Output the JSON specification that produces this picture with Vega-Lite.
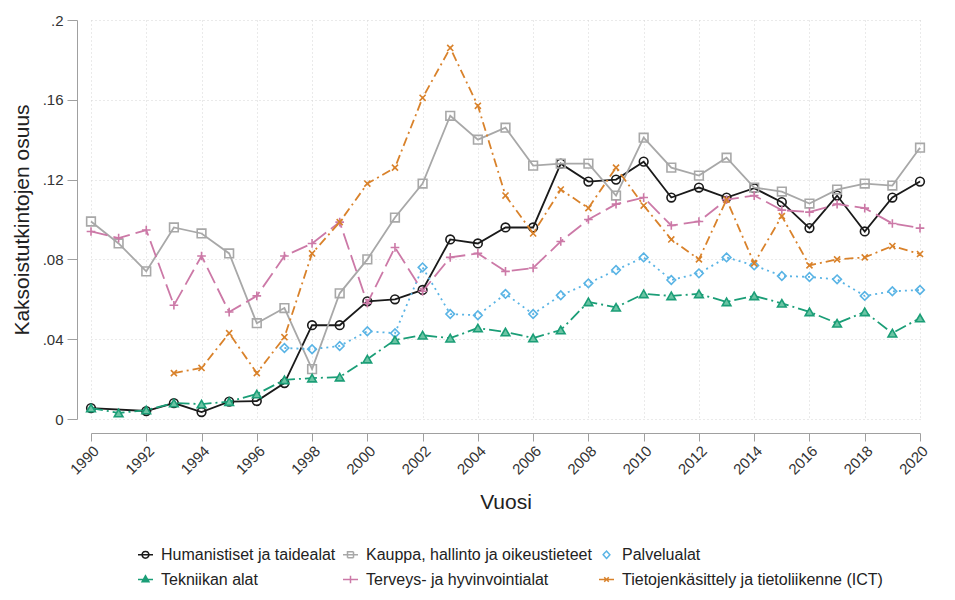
{
  "$schema": "https://vega.github.io/schema/vega-lite/v6.json",
  "width": 829,
  "height": 399,
  "autosize": {"type": "none"},
  "padding": {"left": 91, "top": 20, "right": 35, "bottom": 181},
  "background": "white",
  "config": {
    "font": "Liberation Sans",
    "view": {"stroke": null},
    "axis": {
      "labelFont": "Liberation Sans",
      "titleFont": "Liberation Sans",
      "labelFontSize": 15,
      "titleFontSize": 21,
      "titleFontWeight": "normal",
      "labelColor": "#333333",
      "titleColor": "#222222",
      "domainColor": "#a0a0a0",
      "tickColor": "#a0a0a0",
      "gridColor": "#d4d4d4",
      "gridDash": [1, 3],
      "gridWidth": 1
    }
  },
  "data": {
    "values": [
      {"vuosi": 1990, "ala": "Humanistiset ja taidealat", "osuus": 0.0055},
      {"vuosi": 1992, "ala": "Humanistiset ja taidealat", "osuus": 0.004},
      {"vuosi": 1993, "ala": "Humanistiset ja taidealat", "osuus": 0.008},
      {"vuosi": 1994, "ala": "Humanistiset ja taidealat", "osuus": 0.0035},
      {"vuosi": 1995, "ala": "Humanistiset ja taidealat", "osuus": 0.0087},
      {"vuosi": 1996, "ala": "Humanistiset ja taidealat", "osuus": 0.009},
      {"vuosi": 1997, "ala": "Humanistiset ja taidealat", "osuus": 0.018},
      {"vuosi": 1998, "ala": "Humanistiset ja taidealat", "osuus": 0.047},
      {"vuosi": 1999, "ala": "Humanistiset ja taidealat", "osuus": 0.047},
      {"vuosi": 2000, "ala": "Humanistiset ja taidealat", "osuus": 0.059},
      {"vuosi": 2001, "ala": "Humanistiset ja taidealat", "osuus": 0.060},
      {"vuosi": 2002, "ala": "Humanistiset ja taidealat", "osuus": 0.0647},
      {"vuosi": 2003, "ala": "Humanistiset ja taidealat", "osuus": 0.090},
      {"vuosi": 2004, "ala": "Humanistiset ja taidealat", "osuus": 0.088},
      {"vuosi": 2005, "ala": "Humanistiset ja taidealat", "osuus": 0.096},
      {"vuosi": 2006, "ala": "Humanistiset ja taidealat", "osuus": 0.096},
      {"vuosi": 2007, "ala": "Humanistiset ja taidealat", "osuus": 0.128},
      {"vuosi": 2008, "ala": "Humanistiset ja taidealat", "osuus": 0.119},
      {"vuosi": 2009, "ala": "Humanistiset ja taidealat", "osuus": 0.120},
      {"vuosi": 2010, "ala": "Humanistiset ja taidealat", "osuus": 0.129},
      {"vuosi": 2011, "ala": "Humanistiset ja taidealat", "osuus": 0.111},
      {"vuosi": 2012, "ala": "Humanistiset ja taidealat", "osuus": 0.116},
      {"vuosi": 2013, "ala": "Humanistiset ja taidealat", "osuus": 0.111},
      {"vuosi": 2014, "ala": "Humanistiset ja taidealat", "osuus": 0.1157},
      {"vuosi": 2015, "ala": "Humanistiset ja taidealat", "osuus": 0.1087},
      {"vuosi": 2016, "ala": "Humanistiset ja taidealat", "osuus": 0.0957},
      {"vuosi": 2017, "ala": "Humanistiset ja taidealat", "osuus": 0.112},
      {"vuosi": 2018, "ala": "Humanistiset ja taidealat", "osuus": 0.094},
      {"vuosi": 2019, "ala": "Humanistiset ja taidealat", "osuus": 0.111},
      {"vuosi": 2020, "ala": "Humanistiset ja taidealat", "osuus": 0.119},

      {"vuosi": 1990, "ala": "Kauppa, hallinto ja oikeustieteet", "osuus": 0.099},
      {"vuosi": 1991, "ala": "Kauppa, hallinto ja oikeustieteet", "osuus": 0.088},
      {"vuosi": 1992, "ala": "Kauppa, hallinto ja oikeustieteet", "osuus": 0.074},
      {"vuosi": 1993, "ala": "Kauppa, hallinto ja oikeustieteet", "osuus": 0.096},
      {"vuosi": 1994, "ala": "Kauppa, hallinto ja oikeustieteet", "osuus": 0.093},
      {"vuosi": 1995, "ala": "Kauppa, hallinto ja oikeustieteet", "osuus": 0.083},
      {"vuosi": 1996, "ala": "Kauppa, hallinto ja oikeustieteet", "osuus": 0.048},
      {"vuosi": 1997, "ala": "Kauppa, hallinto ja oikeustieteet", "osuus": 0.0556},
      {"vuosi": 1998, "ala": "Kauppa, hallinto ja oikeustieteet", "osuus": 0.025},
      {"vuosi": 1999, "ala": "Kauppa, hallinto ja oikeustieteet", "osuus": 0.063},
      {"vuosi": 2000, "ala": "Kauppa, hallinto ja oikeustieteet", "osuus": 0.080},
      {"vuosi": 2001, "ala": "Kauppa, hallinto ja oikeustieteet", "osuus": 0.101},
      {"vuosi": 2002, "ala": "Kauppa, hallinto ja oikeustieteet", "osuus": 0.118},
      {"vuosi": 2003, "ala": "Kauppa, hallinto ja oikeustieteet", "osuus": 0.152},
      {"vuosi": 2004, "ala": "Kauppa, hallinto ja oikeustieteet", "osuus": 0.140},
      {"vuosi": 2005, "ala": "Kauppa, hallinto ja oikeustieteet", "osuus": 0.146},
      {"vuosi": 2006, "ala": "Kauppa, hallinto ja oikeustieteet", "osuus": 0.127},
      {"vuosi": 2007, "ala": "Kauppa, hallinto ja oikeustieteet", "osuus": 0.128},
      {"vuosi": 2008, "ala": "Kauppa, hallinto ja oikeustieteet", "osuus": 0.128},
      {"vuosi": 2009, "ala": "Kauppa, hallinto ja oikeustieteet", "osuus": 0.112},
      {"vuosi": 2010, "ala": "Kauppa, hallinto ja oikeustieteet", "osuus": 0.141},
      {"vuosi": 2011, "ala": "Kauppa, hallinto ja oikeustieteet", "osuus": 0.126},
      {"vuosi": 2012, "ala": "Kauppa, hallinto ja oikeustieteet", "osuus": 0.122},
      {"vuosi": 2013, "ala": "Kauppa, hallinto ja oikeustieteet", "osuus": 0.131},
      {"vuosi": 2014, "ala": "Kauppa, hallinto ja oikeustieteet", "osuus": 0.116},
      {"vuosi": 2015, "ala": "Kauppa, hallinto ja oikeustieteet", "osuus": 0.114},
      {"vuosi": 2016, "ala": "Kauppa, hallinto ja oikeustieteet", "osuus": 0.108},
      {"vuosi": 2017, "ala": "Kauppa, hallinto ja oikeustieteet", "osuus": 0.115},
      {"vuosi": 2018, "ala": "Kauppa, hallinto ja oikeustieteet", "osuus": 0.118},
      {"vuosi": 2019, "ala": "Kauppa, hallinto ja oikeustieteet", "osuus": 0.117},
      {"vuosi": 2020, "ala": "Kauppa, hallinto ja oikeustieteet", "osuus": 0.136},

      {"vuosi": 1997, "ala": "Palvelualat", "osuus": 0.0356},
      {"vuosi": 1998, "ala": "Palvelualat", "osuus": 0.035},
      {"vuosi": 1999, "ala": "Palvelualat", "osuus": 0.0366},
      {"vuosi": 2000, "ala": "Palvelualat", "osuus": 0.044},
      {"vuosi": 2001, "ala": "Palvelualat", "osuus": 0.043},
      {"vuosi": 2002, "ala": "Palvelualat", "osuus": 0.076},
      {"vuosi": 2003, "ala": "Palvelualat", "osuus": 0.0526},
      {"vuosi": 2004, "ala": "Palvelualat", "osuus": 0.052},
      {"vuosi": 2005, "ala": "Palvelualat", "osuus": 0.0627},
      {"vuosi": 2006, "ala": "Palvelualat", "osuus": 0.0526},
      {"vuosi": 2007, "ala": "Palvelualat", "osuus": 0.062},
      {"vuosi": 2008, "ala": "Palvelualat", "osuus": 0.068},
      {"vuosi": 2009, "ala": "Palvelualat", "osuus": 0.0747},
      {"vuosi": 2010, "ala": "Palvelualat", "osuus": 0.081},
      {"vuosi": 2011, "ala": "Palvelualat", "osuus": 0.0697},
      {"vuosi": 2012, "ala": "Palvelualat", "osuus": 0.073},
      {"vuosi": 2013, "ala": "Palvelualat", "osuus": 0.081},
      {"vuosi": 2014, "ala": "Palvelualat", "osuus": 0.077},
      {"vuosi": 2015, "ala": "Palvelualat", "osuus": 0.0717},
      {"vuosi": 2016, "ala": "Palvelualat", "osuus": 0.0712},
      {"vuosi": 2017, "ala": "Palvelualat", "osuus": 0.070},
      {"vuosi": 2018, "ala": "Palvelualat", "osuus": 0.0617},
      {"vuosi": 2019, "ala": "Palvelualat", "osuus": 0.064},
      {"vuosi": 2020, "ala": "Palvelualat", "osuus": 0.0647},

      {"vuosi": 1990, "ala": "Tekniikan alat", "osuus": 0.0055},
      {"vuosi": 1991, "ala": "Tekniikan alat", "osuus": 0.003},
      {"vuosi": 1992, "ala": "Tekniikan alat", "osuus": 0.0045},
      {"vuosi": 1993, "ala": "Tekniikan alat", "osuus": 0.008},
      {"vuosi": 1994, "ala": "Tekniikan alat", "osuus": 0.0075},
      {"vuosi": 1995, "ala": "Tekniikan alat", "osuus": 0.0087},
      {"vuosi": 1996, "ala": "Tekniikan alat", "osuus": 0.0125},
      {"vuosi": 1997, "ala": "Tekniikan alat", "osuus": 0.0196},
      {"vuosi": 1998, "ala": "Tekniikan alat", "osuus": 0.0205},
      {"vuosi": 1999, "ala": "Tekniikan alat", "osuus": 0.021},
      {"vuosi": 2000, "ala": "Tekniikan alat", "osuus": 0.030},
      {"vuosi": 2001, "ala": "Tekniikan alat", "osuus": 0.0396},
      {"vuosi": 2002, "ala": "Tekniikan alat", "osuus": 0.042},
      {"vuosi": 2003, "ala": "Tekniikan alat", "osuus": 0.0405},
      {"vuosi": 2004, "ala": "Tekniikan alat", "osuus": 0.0456},
      {"vuosi": 2005, "ala": "Tekniikan alat", "osuus": 0.0436},
      {"vuosi": 2006, "ala": "Tekniikan alat", "osuus": 0.0406},
      {"vuosi": 2007, "ala": "Tekniikan alat", "osuus": 0.0446},
      {"vuosi": 2008, "ala": "Tekniikan alat", "osuus": 0.0587},
      {"vuosi": 2009, "ala": "Tekniikan alat", "osuus": 0.056},
      {"vuosi": 2010, "ala": "Tekniikan alat", "osuus": 0.0627},
      {"vuosi": 2011, "ala": "Tekniikan alat", "osuus": 0.0617},
      {"vuosi": 2012, "ala": "Tekniikan alat", "osuus": 0.0627},
      {"vuosi": 2013, "ala": "Tekniikan alat", "osuus": 0.0587},
      {"vuosi": 2014, "ala": "Tekniikan alat", "osuus": 0.0617},
      {"vuosi": 2015, "ala": "Tekniikan alat", "osuus": 0.058},
      {"vuosi": 2016, "ala": "Tekniikan alat", "osuus": 0.0537},
      {"vuosi": 2017, "ala": "Tekniikan alat", "osuus": 0.048},
      {"vuosi": 2018, "ala": "Tekniikan alat", "osuus": 0.0537},
      {"vuosi": 2019, "ala": "Tekniikan alat", "osuus": 0.043},
      {"vuosi": 2020, "ala": "Tekniikan alat", "osuus": 0.0506},

      {"vuosi": 1990, "ala": "Terveys- ja hyvinvointialat", "osuus": 0.094},
      {"vuosi": 1991, "ala": "Terveys- ja hyvinvointialat", "osuus": 0.0907},
      {"vuosi": 1992, "ala": "Terveys- ja hyvinvointialat", "osuus": 0.0947},
      {"vuosi": 1993, "ala": "Terveys- ja hyvinvointialat", "osuus": 0.057},
      {"vuosi": 1994, "ala": "Terveys- ja hyvinvointialat", "osuus": 0.0817},
      {"vuosi": 1995, "ala": "Terveys- ja hyvinvointialat", "osuus": 0.0536},
      {"vuosi": 1996, "ala": "Terveys- ja hyvinvointialat", "osuus": 0.0617},
      {"vuosi": 1997, "ala": "Terveys- ja hyvinvointialat", "osuus": 0.0817},
      {"vuosi": 1998, "ala": "Terveys- ja hyvinvointialat", "osuus": 0.088},
      {"vuosi": 1999, "ala": "Terveys- ja hyvinvointialat", "osuus": 0.0987},
      {"vuosi": 2000, "ala": "Terveys- ja hyvinvointialat", "osuus": 0.058},
      {"vuosi": 2001, "ala": "Terveys- ja hyvinvointialat", "osuus": 0.086},
      {"vuosi": 2002, "ala": "Terveys- ja hyvinvointialat", "osuus": 0.064},
      {"vuosi": 2003, "ala": "Terveys- ja hyvinvointialat", "osuus": 0.081},
      {"vuosi": 2004, "ala": "Terveys- ja hyvinvointialat", "osuus": 0.083},
      {"vuosi": 2005, "ala": "Terveys- ja hyvinvointialat", "osuus": 0.074},
      {"vuosi": 2006, "ala": "Terveys- ja hyvinvointialat", "osuus": 0.0757},
      {"vuosi": 2007, "ala": "Terveys- ja hyvinvointialat", "osuus": 0.089},
      {"vuosi": 2008, "ala": "Terveys- ja hyvinvointialat", "osuus": 0.100},
      {"vuosi": 2009, "ala": "Terveys- ja hyvinvointialat", "osuus": 0.1077},
      {"vuosi": 2010, "ala": "Terveys- ja hyvinvointialat", "osuus": 0.111},
      {"vuosi": 2011, "ala": "Terveys- ja hyvinvointialat", "osuus": 0.097},
      {"vuosi": 2012, "ala": "Terveys- ja hyvinvointialat", "osuus": 0.099},
      {"vuosi": 2013, "ala": "Terveys- ja hyvinvointialat", "osuus": 0.110},
      {"vuosi": 2014, "ala": "Terveys- ja hyvinvointialat", "osuus": 0.112},
      {"vuosi": 2015, "ala": "Terveys- ja hyvinvointialat", "osuus": 0.1047},
      {"vuosi": 2016, "ala": "Terveys- ja hyvinvointialat", "osuus": 0.1037},
      {"vuosi": 2017, "ala": "Terveys- ja hyvinvointialat", "osuus": 0.1077},
      {"vuosi": 2018, "ala": "Terveys- ja hyvinvointialat", "osuus": 0.1057},
      {"vuosi": 2019, "ala": "Terveys- ja hyvinvointialat", "osuus": 0.098},
      {"vuosi": 2020, "ala": "Terveys- ja hyvinvointialat", "osuus": 0.0957},

      {"vuosi": 1993, "ala": "Tietojenkäsittely ja tietoliikenne (ICT)", "osuus": 0.023},
      {"vuosi": 1994, "ala": "Tietojenkäsittely ja tietoliikenne (ICT)", "osuus": 0.0256},
      {"vuosi": 1995, "ala": "Tietojenkäsittely ja tietoliikenne (ICT)", "osuus": 0.043},
      {"vuosi": 1996, "ala": "Tietojenkäsittely ja tietoliikenne (ICT)", "osuus": 0.023},
      {"vuosi": 1997, "ala": "Tietojenkäsittely ja tietoliikenne (ICT)", "osuus": 0.041},
      {"vuosi": 1998, "ala": "Tietojenkäsittely ja tietoliikenne (ICT)", "osuus": 0.083},
      {"vuosi": 1999, "ala": "Tietojenkäsittely ja tietoliikenne (ICT)", "osuus": 0.0987},
      {"vuosi": 2000, "ala": "Tietojenkäsittely ja tietoliikenne (ICT)", "osuus": 0.118},
      {"vuosi": 2001, "ala": "Tietojenkäsittely ja tietoliikenne (ICT)", "osuus": 0.126},
      {"vuosi": 2002, "ala": "Tietojenkäsittely ja tietoliikenne (ICT)", "osuus": 0.161},
      {"vuosi": 2003, "ala": "Tietojenkäsittely ja tietoliikenne (ICT)", "osuus": 0.186},
      {"vuosi": 2004, "ala": "Tietojenkäsittely ja tietoliikenne (ICT)", "osuus": 0.157},
      {"vuosi": 2005, "ala": "Tietojenkäsittely ja tietoliikenne (ICT)", "osuus": 0.112},
      {"vuosi": 2006, "ala": "Tietojenkäsittely ja tietoliikenne (ICT)", "osuus": 0.093},
      {"vuosi": 2007, "ala": "Tietojenkäsittely ja tietoliikenne (ICT)", "osuus": 0.115},
      {"vuosi": 2008, "ala": "Tietojenkäsittely ja tietoliikenne (ICT)", "osuus": 0.1057},
      {"vuosi": 2009, "ala": "Tietojenkäsittely ja tietoliikenne (ICT)", "osuus": 0.126},
      {"vuosi": 2010, "ala": "Tietojenkäsittely ja tietoliikenne (ICT)", "osuus": 0.107},
      {"vuosi": 2011, "ala": "Tietojenkäsittely ja tietoliikenne (ICT)", "osuus": 0.090},
      {"vuosi": 2012, "ala": "Tietojenkäsittely ja tietoliikenne (ICT)", "osuus": 0.080},
      {"vuosi": 2013, "ala": "Tietojenkäsittely ja tietoliikenne (ICT)", "osuus": 0.110},
      {"vuosi": 2014, "ala": "Tietojenkäsittely ja tietoliikenne (ICT)", "osuus": 0.078},
      {"vuosi": 2015, "ala": "Tietojenkäsittely ja tietoliikenne (ICT)", "osuus": 0.1017},
      {"vuosi": 2016, "ala": "Tietojenkäsittely ja tietoliikenne (ICT)", "osuus": 0.077},
      {"vuosi": 2017, "ala": "Tietojenkäsittely ja tietoliikenne (ICT)", "osuus": 0.080},
      {"vuosi": 2018, "ala": "Tietojenkäsittely ja tietoliikenne (ICT)", "osuus": 0.081},
      {"vuosi": 2019, "ala": "Tietojenkäsittely ja tietoliikenne (ICT)", "osuus": 0.0867},
      {"vuosi": 2020, "ala": "Tietojenkäsittely ja tietoliikenne (ICT)", "osuus": 0.0827}
    ]
  },
  "encoding": {
    "x": {
      "field": "vuosi",
      "type": "quantitative",
      "scale": {"domain": [1990, 2020], "nice": false, "zero": false},
      "axis": {
        "title": "Vuosi",
        "values": [1990, 1992, 1994, 1996, 1998, 2000, 2002, 2004, 2006, 2008, 2010, 2012, 2014, 2016, 2018, 2020],
        "format": "d",
        "labelAngle": -45,
        "offset": 14,
        "tickSize": 8,
        "labelPadding": 2,
        "titlePadding": 14,
        "grid": true,
        "labelFlush": false,
        "labelOverlap": false
      }
    },
    "y": {
      "field": "osuus",
      "type": "quantitative",
      "scale": {"domain": [0, 0.2], "nice": false},
      "axis": {
        "title": "Kaksoistutkintojen osuus",
        "values": [0, 0.04, 0.08, 0.12, 0.16, 0.2],
        "labelExpr": "datum.value == 0 ? '0' : replace(format(datum.value, '.2~f'), '0.', '.')",
        "offset": 14,
        "tickSize": 10,
        "labelPadding": 4,
        "titlePadding": 10,
        "grid": true,
        "labelFlush": false
      }
    },
    "color": {
      "field": "ala",
      "type": "nominal",
      "scale": {
        "domain": ["Humanistiset ja taidealat", "Kauppa, hallinto ja oikeustieteet", "Palvelualat", "Tekniikan alat", "Terveys- ja hyvinvointialat", "Tietojenkäsittely ja tietoliikenne (ICT)"],
        "range": ["#1a1a1a", "#a8a8a8", "#5ab4e5", "#1b9e77", "#cc79a7", "#d9822b"]
      },
      "legend": {
        "title": null,
        "orient": "none",
        "direction": "horizontal",
        "legendX": 46,
        "legendY": 526,
        "columns": 3,
        "columnPadding": 4,
        "rowPadding": 8,
        "labelFont": "Liberation Sans",
        "labelFontSize": 16,
        "labelColor": "#222222",
        "labelLimit": 400,
        "labelOffset": 7,
        "symbolSize": 225,
        "symbolStrokeWidth": 1.5,
        "encode": {
          "symbols": {
            "update": {
              "shape": {"signal": "datum.value === 'Humanistiset ja taidealat' ? 'M-1,0L-0.45,0M0.45,0L1,0M0.45,0A0.45,0.45,0,1,1,-0.45,0A0.45,0.45,0,1,1,0.45,0M-0.45,0L0.45,0' : datum.value === 'Kauppa, hallinto ja oikeustieteet' ? 'M-1,0L1,0M-0.4,-0.4L0.4,-0.4L0.4,0.4L-0.4,0.4Z' : datum.value === 'Palvelualat' ? 'M0,-0.5L0.45,0L0,0.5L-0.45,0Z' : datum.value === 'Tekniikan alat' ? 'M-1,0L1,0M0,-0.5L0.45,0.3L-0.45,0.3Z' : datum.value === 'Terveys- ja hyvinvointialat' ? 'M-1,0L1,0M0,-0.5L0,0.5' : 'M-1,0L1,0M-0.3,-0.3L0.3,0.3M0.3,-0.3L-0.3,0.3'"},
              "fill": {"signal": "datum.value === 'Tekniikan alat' ? '#1b9e77' : 'transparent'"},
              "strokeDash": {"value": [1, 0]},
              "strokeWidth": {"value": 1.5}
            }
          }
        }
      }
    }
  },
  "layer": [
    {
      "transform": [{"filter": "datum.ala === 'Humanistiset ja taidealat'"}],
      "layer": [
        {"mark": {"type": "line", "strokeWidth": 1.8}, "encoding": {"order": {"field": "vuosi", "type": "quantitative"}}},
        {"mark": {"type": "point", "shape": "circle", "filled": false, "strokeWidth": 1.6, "size": 75, "opacity": 1}}
      ]
    },
    {
      "transform": [{"filter": "datum.ala === 'Kauppa, hallinto ja oikeustieteet'"}],
      "layer": [
        {"mark": {"type": "line", "strokeWidth": 1.8}, "encoding": {"order": {"field": "vuosi", "type": "quantitative"}}},
        {"mark": {"type": "point", "shape": "square", "filled": false, "strokeWidth": 1.6, "size": 75, "opacity": 1}}
      ]
    },
    {
      "transform": [{"filter": "datum.ala === 'Palvelualat'"}],
      "layer": [
        {"mark": {"type": "line", "strokeWidth": 1.8, "strokeDash": [2, 4]}, "encoding": {"order": {"field": "vuosi", "type": "quantitative"}}},
        {"mark": {"type": "point", "shape": "diamond", "filled": false, "strokeWidth": 1.6, "size": 75, "opacity": 1}}
      ]
    },
    {
      "transform": [{"filter": "datum.ala === 'Tekniikan alat'"}],
      "layer": [
        {"mark": {"type": "line", "strokeWidth": 1.8, "strokeDash": [12, 4, 2, 4]}, "encoding": {"order": {"field": "vuosi", "type": "quantitative"}}},
        {"mark": {"type": "point", "shape": "triangle-up", "filled": false, "fill": "#6cc4a4", "fillOpacity": 1, "strokeWidth": 1.6, "size": 75, "opacity": 1}}
      ]
    },
    {
      "transform": [{"filter": "datum.ala === 'Terveys- ja hyvinvointialat'"}],
      "layer": [
        {"mark": {"type": "line", "strokeWidth": 1.8, "strokeDash": [17, 6]}, "encoding": {"order": {"field": "vuosi", "type": "quantitative"}}},
        {"mark": {"type": "point", "shape": "M-1,0L1,0M0,-1L0,1", "filled": false, "strokeWidth": 1.6, "size": 75, "opacity": 1}}
      ]
    },
    {
      "transform": [{"filter": "datum.ala === 'Tietojenkäsittely ja tietoliikenne (ICT)'"}],
      "layer": [
        {"mark": {"type": "line", "strokeWidth": 1.8, "strokeDash": [9, 4, 2, 4]}, "encoding": {"order": {"field": "vuosi", "type": "quantitative"}}},
        {"mark": {"type": "point", "shape": "M-0.7,-0.7L0.7,0.7M0.7,-0.7L-0.7,0.7", "filled": false, "strokeWidth": 1.6, "size": 75, "opacity": 1}}
      ]
    }
  ]
}
